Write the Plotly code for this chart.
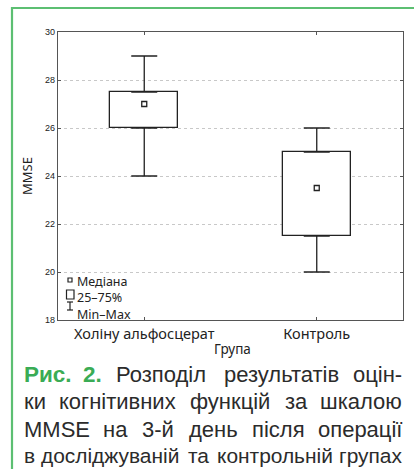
import plotly.graph_objects as go

categories = ["Холіну альфосцерат", "Контроль"]
q1 = [26.0, 21.5]
q3 = [27.5, 25.0]
median = [27.0, 23.5]
vmin = [24.0, 20.0]
vmax = [29.0, 26.0]
y_ticks = [18, 20, 22, 24, 26, 28, 30]
legend_labels = ["Медіана", "25–75%", "Min–Max"]
caption_prefix = ["Рис.", "2."]
caption_lines = [
    ["Розподіл", "результатів", "оцін-"],
    ["ки", "когнітивних", "функцій", "за", "шкалою"],
    ["MMSE", "на", "3-й", "день", "після", "операції"],
    ["в", "досліджуваній", "та", "контрольній", "групах"],
]

W, H = 414, 469
L, R, T, B = 58, 403, 32, 320

def px(x):
    return (x - L) / (R - L)

def py(y):
    return (B - y) / (B - T)

# approximate Liberation Sans advance widths (per 1000 em)
CW = {
    "а": 556, "б": 573, "в": 531, "г": 365, "д": 583, "е": 556, "ж": 669, "з": 458,
    "и": 559, "й": 559, "к": 438, "л": 583, "м": 688, "н": 552, "о": 556, "п": 542,
    "р": 556, "с": 500, "т": 458, "у": 500, "ф": 823, "х": 500, "ц": 573, "ч": 521,
    "ш": 802, "щ": 823, "ь": 521, "ю": 750, "я": 542, "і": 222, "ї": 278, "є": 510,
    "Р": 667, "М": 833, "M": 833, "S": 667, "E": 667, "-": 333, ".": 278,
    "2": 556, "3": 556,
}
BW = {"Р": 667, "и": 615, "с": 556, ".": 278, "2": 556}

def wlen(word, size, bold=False):
    tab = BW if bold else CW
    return sum(tab.get(c, CW.get(c, 556)) for c in word) * size / 1000.0

xs = list(range(len(categories)))
fig = go.Figure()

# upper and lower whiskers
fig.add_trace(go.Scatter(
    x=xs, y=q3, mode="markers", marker=dict(size=1, color="rgba(0,0,0,0)"),
    error_y=dict(type="data", symmetric=False,
                 array=[a - b for a, b in zip(vmax, q3)],
                 arrayminus=[0, 0], color="#222", thickness=1.3, width=13),
    showlegend=False, hoverinfo="skip"))
fig.add_trace(go.Scatter(
    x=xs, y=q1, mode="markers", marker=dict(size=1, color="rgba(0,0,0,0)"),
    error_y=dict(type="data", symmetric=False,
                 array=[0, 0],
                 arrayminus=[a - b for a, b in zip(q1, vmin)], color="#222", thickness=1.3, width=13),
    showlegend=False, hoverinfo="skip"))
# boxes
fig.add_trace(go.Bar(
    x=xs, y=[a - b for a, b in zip(q3, q1)], base=q1, width=0.394,
    marker=dict(color="white", line=dict(color="#222", width=1.3)),
    showlegend=False, hoverinfo="skip"))
# medians
fig.add_trace(go.Scatter(
    x=xs, y=median, mode="markers",
    marker=dict(symbol="square-open", size=5, color="#222", line=dict(width=1.3)),
    showlegend=False, hoverinfo="skip"))

shapes = []
# green frame
shapes.append(dict(type="path", xref="paper", yref="paper",
                   path=f"M {px(12)},{py(470)} L {px(12)},{py(8)} L {px(415)},{py(8)}",
                   line=dict(color="#5cbf72", width=2.2)))
# legend symbols
shapes.append(dict(type="rect", xref="paper", yref="paper",
                   x0=px(68), x1=px(72), y0=py(282), y1=py(278),
                   line=dict(color="#222", width=1.2)))
shapes.append(dict(type="rect", xref="paper", yref="paper",
                   x0=px(66.5), x1=px(74), y0=py(299), y1=py(290),
                   line=dict(color="#222", width=1.2)))
shapes.append(dict(type="line", xref="paper", yref="paper",
                   x0=px(70), x1=px(70), y0=py(302), y1=py(310),
                   line=dict(color="#222", width=1.2)))
shapes.append(dict(type="line", xref="paper", yref="paper",
                   x0=px(67), x1=px(73), y0=py(302), y1=py(302),
                   line=dict(color="#222", width=1.2)))
shapes.append(dict(type="line", xref="paper", yref="paper",
                   x0=px(67), x1=px(73), y0=py(310), y1=py(310),
                   line=dict(color="#222", width=1.2)))

ann = []
ann.append(dict(text="<br>".join(legend_labels), xref="paper", yref="paper",
                x=px(75), y=py(271), xanchor="left", yanchor="top", align="left",
                showarrow=False,
                font=dict(family="Noto Sans, sans-serif", size=12.5, color="#222")))
ann.append(dict(text="Група", xref="paper", yref="paper", x=px(232), y=py(349),
                xanchor="center", yanchor="middle", showarrow=False,
                font=dict(family="Noto Sans, sans-serif", size=13.5, color="#222")))
ann.append(dict(text="MMSE", xref="paper", yref="paper", x=px(27), y=py(176),
                xanchor="center", yanchor="middle", showarrow=False, textangle=-90,
                font=dict(family="Noto Sans, sans-serif", size=13, color="#222")))

green = "#3aac55"
cap_family = "Liberation Sans, Arial, sans-serif"
cap_y = [374, 401.5, 429, 455.5]
X0, X1 = 22, 404
for i, (words, yy) in enumerate(zip(caption_lines, cap_y)):
    items = [(w, False) for w in words]
    if i == 0:
        items = [(w, True) for w in caption_prefix] + items
    n = len(items)
    raw = sum(wlen(w, 1000, b) for w, b in items) / 1000.0
    size = (X1 - X0 - 8 * (n - 1)) / raw
    size = max(19.5, min(22.0, size))
    widths = [wlen(w, size, b) for w, b in items]
    gap = (X1 - X0 - sum(widths)) / (n - 1)
    xcur = X0
    for j, ((w, b), wd) in enumerate(zip(items, widths)):
        if j == 0:
            xa, xx = "left", X0
        elif j == n - 1:
            xa, xx = "right", X1
        else:
            xa, xx = "center", xcur + wd / 2
        txt = f"<b>{w}</b>" if b else w
        ann.append(dict(text=txt, xref="paper", yref="paper",
                        x=px(xx), y=py(yy), xanchor=xa, yanchor="middle",
                        showarrow=False,
                        font=dict(family=cap_family, size=size + (0.5 if b else 0),
                                  color=green if b else "#2b2b2b")))
        xcur += wd + gap

fig.update_layout(
    width=W, height=H,
    margin=dict(l=L, r=W - R, t=T, b=H - B, pad=0),
    paper_bgcolor="white", plot_bgcolor="white",
    shapes=shapes, annotations=ann, bargap=0,
    xaxis=dict(range=[-0.5, 1.5], tickvals=xs, ticktext=categories,
               showgrid=False, zeroline=False, showline=True, linecolor="#555",
               linewidth=1.2, mirror="ticks", ticks="inside", ticklen=3, tickcolor="#555",
               tickfont=dict(family="Noto Sans, sans-serif", size=14.5, color="#222")),
    yaxis=dict(range=[18, 30], tickvals=y_ticks, showgrid=True, gridcolor="#c8c8c8",
               griddash="dot", gridwidth=1, zeroline=False, showline=True,
               linecolor="#555", linewidth=1.2, mirror="ticks", ticks="inside",
               ticklen=3, tickcolor="#555",
               tickfont=dict(family="Liberation Sans, Arial, sans-serif", size=9, color="#222")),
)
fig.write_html("out.html", config={"displayModeBar": False},
               post_script="document.body.style.margin='0';document.body.style.overflow='hidden';")
